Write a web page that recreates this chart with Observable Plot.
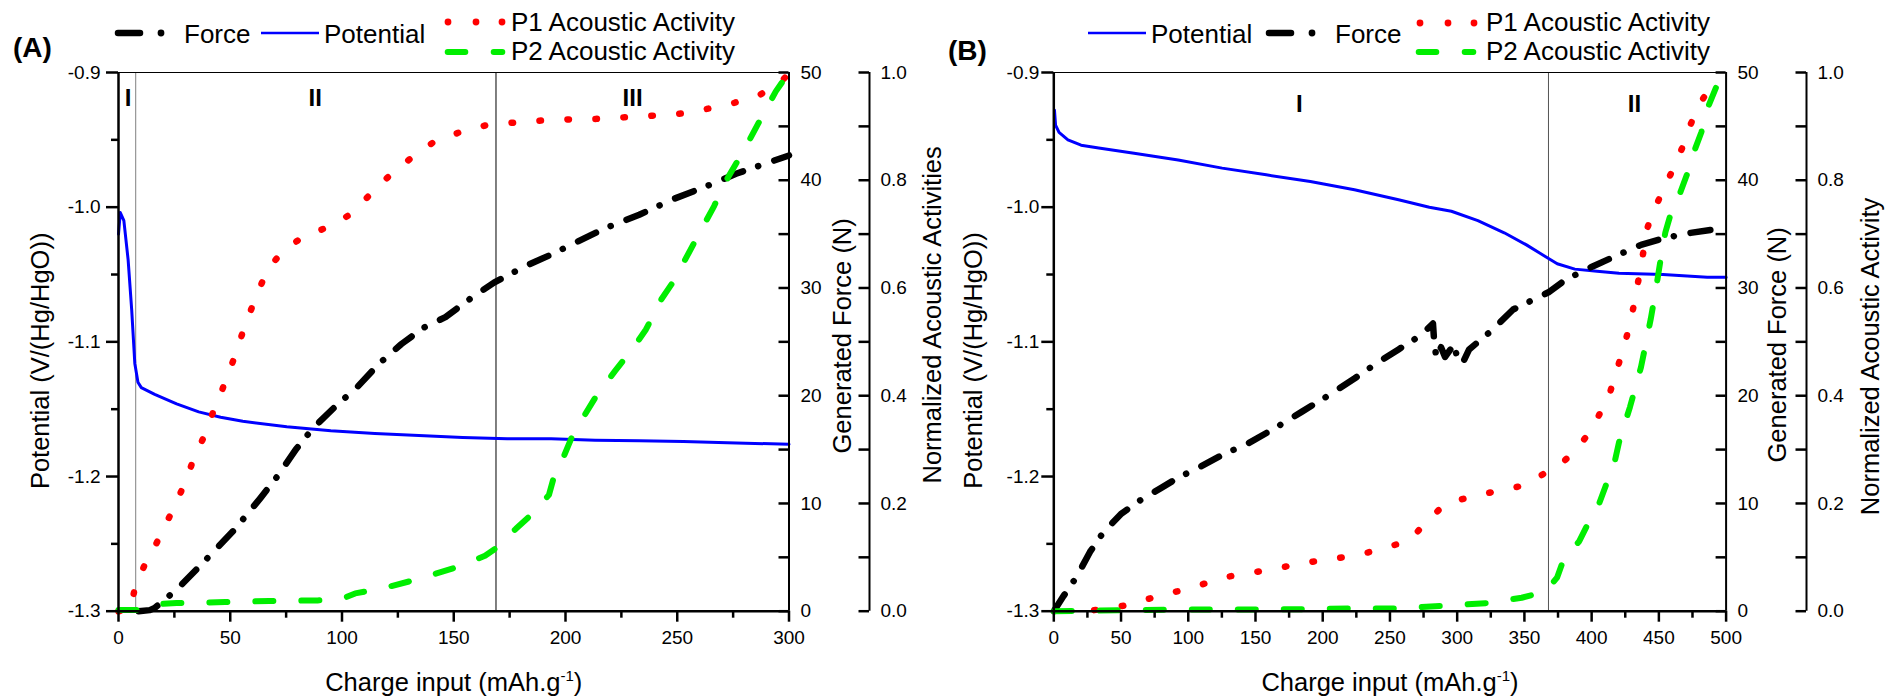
<!DOCTYPE html>
<html>
<head>
<meta charset="utf-8">
<script src="https://cdn.jsdelivr.net/npm/d3@7"></script>
<script src="https://cdn.jsdelivr.net/npm/@observablehq/plot@0.6"></script>
<style>
  body { margin: 0; background: #fff; }
  #wrap { position: relative; width: 1885px; height: 699px; overflow: hidden; background: #fff;
          font-family: "Liberation Sans", Arial, Helvetica, sans-serif; }
  .panel { position: absolute; top: 0; }
  .panel svg { overflow: visible; }
  #legend { position: absolute; left: 0; top: 0; z-index: 5; overflow: visible; }
</style>
</head>
<body>
<div id="wrap"></div>
<script>
// ---------------- DATA ----------------
// Panel (A)
const potA_x = [0, 0.8, 2.4, 4.3, 5.9, 7.3, 8.7, 10.2, 16.2, 26, 35.9, 45.7, 55.6, 75.3, 95, 114.7, 134.4, 154, 173.9, 193.6, 213.3, 233, 252.7, 272.4, 300];
const potA_y = [-1.020, -1.004, -1.010, -1.039, -1.076, -1.116, -1.130, -1.134, -1.139, -1.146, -1.152, -1.156, -1.159, -1.163, -1.166, -1.168, -1.1695, -1.171, -1.172, -1.172, -1.173, -1.1735, -1.174, -1.175, -1.176];

const forceA_x = [9, 14, 16.2, 26, 37.8, 43.8, 51.6, 57.6, 63.5, 71.4, 79.3, 87.1, 97, 106.8, 116.7, 126.6, 136.4, 146.3, 158, 168, 181.7, 193.6, 203.4, 217.2, 233, 248.8, 262.6, 276.3, 290.2, 300];
const forceA_y = [0, 0.1, 0.3, 2.0, 4.5, 5.8, 7.5, 9.0, 10.5, 12.6, 15.0, 17.0, 19.0, 20.8, 23.0, 24.8, 26.3, 27.3, 29.1, 30.5, 32.0, 33.1, 34.1, 35.5, 36.8, 38.3, 39.4, 40.6, 41.6, 42.3];

const p1A_x = [0, 5.3, 7.7, 12.2, 17.1, 21.7, 26.4, 30.4, 34.3, 37.8, 41.4, 45.3, 49.3, 52.6, 56.2, 59.9, 64.1, 67.4, 73.9, 82.8, 93.8, 103.5, 110.8, 118.7, 127.1, 136, 141.5, 152.6, 164.4, 176.8, 189.6, 202, 214.9, 227.1, 240, 252.1, 264, 275.8, 287.2, 297, 300];
const p1A_y = [0, 0.003, 0.05, 0.09, 0.127, 0.166, 0.206, 0.246, 0.290, 0.320, 0.360, 0.399, 0.443, 0.479, 0.526, 0.566, 0.609, 0.639, 0.669, 0.696, 0.713, 0.736, 0.766, 0.799, 0.829, 0.857, 0.872, 0.889, 0.902, 0.907, 0.911, 0.913, 0.914, 0.917, 0.920, 0.924, 0.933, 0.944, 0.959, 0.985, 0.999];

const p2A_x = [0, 9.3, 16.2, 26, 47.7, 67.4, 89.1, 100, 105.9, 118.7, 134.4, 152.2, 164, 168.9, 177.8, 185.7, 192.6, 194.6, 198.5, 202.5, 208.4, 214.3, 222.2, 231, 236, 242.9, 247.8, 252.7, 258.6, 266.5, 271.4, 280.3, 286.2, 294.1, 300];
const p2A_y = [0.002, 0.002, 0.013, 0.015, 0.017, 0.019, 0.020, 0.023, 0.033, 0.043, 0.060, 0.083, 0.103, 0.117, 0.153, 0.183, 0.216, 0.246, 0.280, 0.320, 0.363, 0.403, 0.446, 0.493, 0.523, 0.579, 0.609, 0.646, 0.692, 0.752, 0.796, 0.859, 0.905, 0.965, 1.0];

// Panel (B)
const potB_x = [0.5, 1.3, 3.9, 10.5, 20.3, 33.4, 59.7, 92.5, 125.2, 158, 190.8, 223.6, 256.4, 279.3, 295.7, 315.4, 335, 351.5, 364.6, 374.4, 387.5, 404, 420.3, 453, 486, 500];
const potB_y = [-0.928, -0.939, -0.9445, -0.950, -0.954, -0.956, -0.960, -0.965, -0.971, -0.976, -0.981, -0.987, -0.9945, -1.000, -1.003, -1.010, -1.019, -1.028, -1.036, -1.042, -1.046, -1.0475, -1.049, -1.050, -1.052, -1.052];

const forceB_x = [0, 7.2, 17, 26.9, 36.7, 49.8, 63, 79.3, 92.5, 108.9, 125.2, 144.9, 164.6, 184.3, 203.9, 223.6, 240, 256.4, 272.8, 282, 282.8, 284.5, 288, 291, 295, 297.5, 300.5, 304, 308.9, 325.2, 341.6, 358, 367.9, 381, 400.7, 420.3, 436.7, 453, 472.8, 500];
const forceB_y = [0, 1.4, 3.2, 5.5, 7.3, 9.0, 10.2, 11.4, 12.4, 13.4, 14.5, 15.6, 17.0, 18.5, 20.0, 21.6, 23.0, 24.3, 25.6, 26.7, 25.2, 23.5, 24.5, 23.6, 24.3, 24.8, 23.3, 23.0, 24.3, 26.0, 28.0, 29.0, 29.6, 30.8, 32.0, 33.1, 34.0, 34.6, 35.1, 35.6];

const p1B_x = [30, 51.5, 70.5, 89.2, 108.2, 126.9, 145.9, 166.9, 186.6, 207.2, 227.5, 247.5, 265.6, 276.7, 290.8, 308.9, 327.9, 346.9, 363, 378.4, 390.8, 401.3, 408.9, 412.8, 417.7, 423, 427.9, 431.8, 435.1, 438.4, 441, 445, 452.5, 459.7, 467.2, 472.8, 480, 489.2];
const p1B_y = [0.002, 0.01, 0.023, 0.035, 0.048, 0.063, 0.071, 0.080, 0.090, 0.097, 0.105, 0.118, 0.133, 0.166, 0.198, 0.212, 0.222, 0.232, 0.253, 0.276, 0.306, 0.343, 0.381, 0.399, 0.439, 0.483, 0.526, 0.573, 0.619, 0.666, 0.708, 0.737, 0.778, 0.816, 0.859, 0.899, 0.940, 0.977];

const p2B_x = [0, 30, 92.5, 158, 223.6, 256, 289, 322, 348, 363, 367, 374.4, 379.3, 390.8, 397.4, 405.6, 410.5, 417, 420.3, 423.6, 428.5, 433.4, 436.7, 440, 444, 447.5, 451.5, 454.8, 459, 466.2, 471.1, 476, 481.6, 485.9, 492.5];
const p2B_y = [0, 0.001, 0.003, 0.003, 0.005, 0.005, 0.010, 0.015, 0.025, 0.035, 0.040, 0.063, 0.097, 0.130, 0.163, 0.200, 0.233, 0.276, 0.313, 0.340, 0.379, 0.423, 0.453, 0.493, 0.543, 0.593, 0.656, 0.703, 0.739, 0.779, 0.812, 0.852, 0.889, 0.932, 0.972];

// Ticks
const potMajor = [-1.3, -1.2, -1.1, -1.0, -0.9];
const potMinor = [-1.25, -1.15, -1.05, -0.95];
const forceTicks = [0, 5, 10, 15, 20, 25, 30, 35, 40, 45, 50];
const forceLabels = [0, 10, 20, 30, 40, 50];
const normTicks = [0, 0.1, 0.2, 0.3, 0.4, 0.5, 0.6, 0.7, 0.8, 0.9, 1.0];
const normLabels = [0, 0.2, 0.4, 0.6, 0.8, 1.0];
const xMajorA = [0, 50, 100, 150, 200, 250, 300];
const xMinorA = [25, 75, 125, 175, 225, 275];
const xMajorB = [0, 50, 100, 150, 200, 250, 300, 350, 400, 450, 500];
const xMinorB = [25, 75, 125, 175, 225, 275, 325, 375, 425, 475];

// Region labels and dividers
const regionsA = [{x: 4.3, t: "I"}, {x: 88, t: "II"}, {x: 230, t: "III"}];
const regionsB = [{x: 182.6, t: "I"}, {x: 431.8, t: "II"}];
const dividersA = [7.7, 168.9];
const dividersB = [367.9];

// Text
const xTitleParts = ["Charge input (mAh.g", "-1", ")"];
const potTitle = "Potential (V/(Hg/HgO))";
const forceTitle = "Generated Force (N)";
const normTitleA = "Normalized Acoustic Activities";
const normTitleB = "Normalized Acoustic Activity";

// ---------------- STYLE ----------------
const FONT = '"Liberation Sans", Arial, Helvetica, sans-serif';
const H = 699;
const TOP = 72, BOTTOM = 610.7;
const PH = BOTTOM - TOP;
const yMin = -1.3, yMax = -0.9;
const toPotF = f => yMin + f / 50 * (yMax - yMin);
const toPotN = n => yMin + n * (yMax - yMin);
const COL = {pot: "#0000ff", force: "#000000", p1: "#ff0000", p2: "#00ee00"};
const TITLE_FS = 25.5, TICK_FS = 19, LEG_FS = 26;
const xTitle = xTitleParts.join("");

function pts(xs, ys, f) { return xs.map((x, i) => ({x, y: f(ys[i])})); }
const idf = v => v;

function makePanel(c) {
  const s = c.series;
  const PW = c.width - c.marginLeft - c.marginRight;
  const rot = {rotate: -90, textAnchor: "middle", lineAnchor: "middle", fontSize: TITLE_FS};
  const marks = [
    Plot.ruleX([c.dividers[0]], {stroke: c.divColors[0], strokeWidth: 1}),
    ...(c.dividers.length > 1 ? [Plot.ruleX([c.dividers[1]], {stroke: c.divColors[1], strokeWidth: 1})] : []),
    Plot.text(c.regions, {x: "x", text: "t", frameAnchor: "top", lineAnchor: "middle", dy: c.regionDy, fontWeight: "bold", fontSize: 24, fill: "#000"}),
    Plot.line(pts(s.potX, s.potY, idf), {x: "x", y: "y", stroke: COL.pot, strokeWidth: 3}),
    Plot.line(pts(s.forceX, s.forceY, toPotF), {x: "x", y: "y", stroke: COL.force, strokeWidth: 6.5, strokeLinecap: "round", strokeDasharray: "20 16 0.1 17"}),
    Plot.line(pts(s.p1X, s.p1Y, toPotN), {x: "x", y: "y", stroke: COL.p1, strokeWidth: 6.5, strokeLinecap: "round", strokeDasharray: "1.5 26.5"}),
    Plot.line(pts(s.p2X, s.p2Y, toPotN), {x: "x", y: "y", stroke: COL.p2, strokeWidth: 6, strokeLinecap: "round", strokeDasharray: "18 28"}),
    // frame
    Plot.ruleY([yMax], {stroke: "#000", strokeWidth: 1}),
    Plot.ruleY([yMin], {stroke: "#000", strokeWidth: 2.5}),
    Plot.ruleX([0], {stroke: "#000", strokeWidth: 2.5}),
    Plot.ruleX([c.xMax], {stroke: "#000", strokeWidth: 2}),
    Plot.ruleX([c.xMax], {dx: c.normDx, stroke: "#000", strokeWidth: 2}),
    // tick marks
    Plot.ruleY(potMajor, {y: idf, insetRight: PW - 12, dx: -12, stroke: "#000", strokeWidth: 2.5}),
    Plot.ruleY(potMinor, {y: idf, insetRight: PW - 7, dx: -7, stroke: "#000", strokeWidth: 2.5}),
    Plot.ruleY(forceTicks.map(toPotF), {y: idf, insetLeft: PW - 10, stroke: "#000", strokeWidth: 2.5}),
    Plot.ruleY(normTicks.map(toPotN), {y: idf, insetLeft: PW - 10.5, dx: c.normDx, stroke: "#000", strokeWidth: 2.5}),
    Plot.ruleX(c.xMajor, {x: idf, insetTop: PH - 11, dy: 11, stroke: "#000", strokeWidth: 2.5}),
    Plot.ruleX(c.xMinor, {x: idf, insetTop: PH - 7, dy: 7, stroke: "#000", strokeWidth: 2.5}),
    // tick labels
    Plot.axisY(potMajor, {anchor: "left", tickSize: 0, tickPadding: c.leftPad, tickFormat: d => d.toFixed(1), label: null, fontSize: TICK_FS}),
    Plot.axisY(forceLabels.map(toPotF), {anchor: "right", tickSize: 0, tickPadding: c.forcePad, tickFormat: v => String(Math.round((v - yMin) / (yMax - yMin) * 50)), label: null, fontSize: TICK_FS}),
    Plot.axisY(normLabels.map(toPotN), {anchor: "right", dx: c.normDx, tickSize: 0, tickPadding: 11, tickFormat: v => ((v - yMin) / (yMax - yMin)).toFixed(1), label: null, fontSize: TICK_FS}),
    Plot.axisX(c.xMajor, {anchor: "bottom", tickSize: 0, tickPadding: 19, tickFormat: d => String(d), label: null, fontSize: TICK_FS}),
    // titles
    Plot.text([xTitle], {text: idf, frameAnchor: "bottom", textAnchor: "middle", dy: 80, fontSize: TITLE_FS}),
    Plot.text([potTitle], {text: idf, frameAnchor: "left", dx: c.tLeft[0], dy: c.tLeft[1], ...rot}),
    Plot.text([forceTitle], {text: idf, frameAnchor: "right", dx: c.tForce[0], dy: c.tForce[1], ...rot}),
    Plot.text([c.normTitle], {text: idf, frameAnchor: "right", dx: c.tNorm[0], dy: c.tNorm[1], ...rot})
  ];
  const svg = Plot.plot({
    width: c.width, height: H,
    marginLeft: c.marginLeft, marginRight: c.marginRight, marginTop: TOP, marginBottom: H - BOTTOM,
    x: {domain: [0, c.xMax]},
    y: {domain: [yMin, yMax]},
    style: {fontFamily: FONT, fontSize: TICK_FS + "px", color: "#000", background: "transparent", overflow: "visible"},
    marks
  });
  svg.querySelectorAll("text").forEach(t => {
    if (t.textContent === xTitle) {
      while (t.firstChild) t.removeChild(t.firstChild);
      const NS = "http://www.w3.org/2000/svg";
      const a = document.createElementNS(NS, "tspan"); a.textContent = xTitleParts[0];
      const b = document.createElementNS(NS, "tspan"); b.textContent = xTitleParts[1];
      b.setAttribute("dy", "-10"); b.setAttribute("font-size", "15");
      const e = document.createElementNS(NS, "tspan"); e.textContent = xTitleParts[2];
      e.setAttribute("dy", "10");
      t.appendChild(a); t.appendChild(b); t.appendChild(e);
    }
  });
  const div = document.createElement("div");
  div.className = "panel";
  div.style.left = c.left + "px";
  div.appendChild(svg);
  return div;
}

const wrap = document.getElementById("wrap");
wrap.appendChild(makePanel({
  left: 0, width: 942, marginLeft: 118, marginRight: 942 - 788.5,
  xMax: 300, xMajor: xMajorA, xMinor: xMinorA, normDx: 80.5, leftPad: 18, forcePad: 11.5,
  dividers: dividersA, divColors: ["#808080", "#000000"], regions: regionsA, regionDy: 25.4,
  tLeft: [-78, 19], tForce: [53.5, -6], tNorm: [143.5, -27], normTitle: normTitleA,
  series: {potX: potA_x, potY: potA_y, forceX: forceA_x, forceY: forceA_y, p1X: p1A_x, p1Y: p1A_y, p2X: p2A_x, p2Y: p2A_y}
}));
wrap.appendChild(makePanel({
  left: 942, width: 943, marginLeft: 111.3, marginRight: 159.4,
  xMax: 500, xMajor: xMajorB, xMinor: xMinorB, normDx: 80.4, leftPad: 14.5, forcePad: 11.4,
  dividers: dividersB, divColors: ["#555555"], regions: regionsB, regionDy: 31.4,
  tLeft: [-80.3, 18.6], tForce: [51.4, 3], tNorm: [144.4, 14.6], normTitle: normTitleB,
  series: {potX: potB_x, potY: potB_y, forceX: forceB_x, forceY: forceB_y, p1X: p1B_x, p1Y: p1B_y, p2X: p2B_x, p2Y: p2B_y}
}));

// ---------------- LEGENDS & PANEL LABELS ----------------
const NS = "http://www.w3.org/2000/svg";
const leg = document.createElementNS(NS, "svg");
leg.setAttribute("id", "legend");
leg.setAttribute("width", 1885);
leg.setAttribute("height", 80);
wrap.appendChild(leg);
function el(tag, attrs, text) {
  const e = document.createElementNS(NS, tag);
  for (const k in attrs) e.setAttribute(k, attrs[k]);
  if (text != null) e.textContent = text;
  leg.appendChild(e);
  return e;
}
function sample(kind, x0, y) {
  if (kind === "force") {
    el("line", {x1: x0 + 3, x2: x0 + 25, y1: y, y2: y, stroke: COL.force, "stroke-width": 6.5, "stroke-linecap": "round"});
    el("circle", {cx: x0 + 46, cy: y, r: 3.4, fill: COL.force});
  } else if (kind === "pot") {
    el("line", {x1: x0, x2: x0 + 58, y1: y, y2: y, stroke: COL.pot, "stroke-width": 2.5});
  } else if (kind === "p1") {
    [0, 28, 54].forEach(d => el("circle", {cx: x0 + d, cy: y, r: 3.4, fill: COL.p1}));
  } else if (kind === "p2") {
    el("line", {x1: x0 + 2.7, x2: x0 + 20.3, y1: y, y2: y, stroke: COL.p2, "stroke-width": 6, "stroke-linecap": "round"});
    el("line", {x1: x0 + 48.7, x2: x0 + 57.3, y1: y, y2: y, stroke: COL.p2, "stroke-width": 6, "stroke-linecap": "round"});
  }
}
const legendItems = [
  {kind: "force", label: "Force", sx: 115, tx: 184, y: 33, base: 42.5},
  {kind: "pot", label: "Potential", sx: 261, tx: 324, y: 33, base: 42.5},
  {kind: "p1", label: "P1 Acoustic Activity", sx: 448, tx: 511, y: 22, base: 30.5},
  {kind: "p2", label: "P2 Acoustic Activity", sx: 445, tx: 511, y: 52, base: 60},
  {kind: "pot", label: "Potential", sx: 1088, tx: 1151, y: 33, base: 42.5},
  {kind: "force", label: "Force", sx: 1266, tx: 1335, y: 33, base: 42.5},
  {kind: "p1", label: "P1 Acoustic Activity", sx: 1420, tx: 1486, y: 23, base: 31},
  {kind: "p2", label: "P2 Acoustic Activity", sx: 1416, tx: 1486, y: 52, base: 60}
];
legendItems.forEach(it => {
  sample(it.kind, it.sx, it.y);
  el("text", {x: it.tx, y: it.base, "font-family": FONT, "font-size": LEG_FS, fill: "#000"}, it.label);
});
el("text", {x: 13, y: 57, "font-family": FONT, "font-size": 28, "font-weight": "bold", fill: "#000"}, "(A)");
el("text", {x: 948, y: 60, "font-family": FONT, "font-size": 28, "font-weight": "bold", fill: "#000"}, "(B)");
</script>
</body>
</html>
